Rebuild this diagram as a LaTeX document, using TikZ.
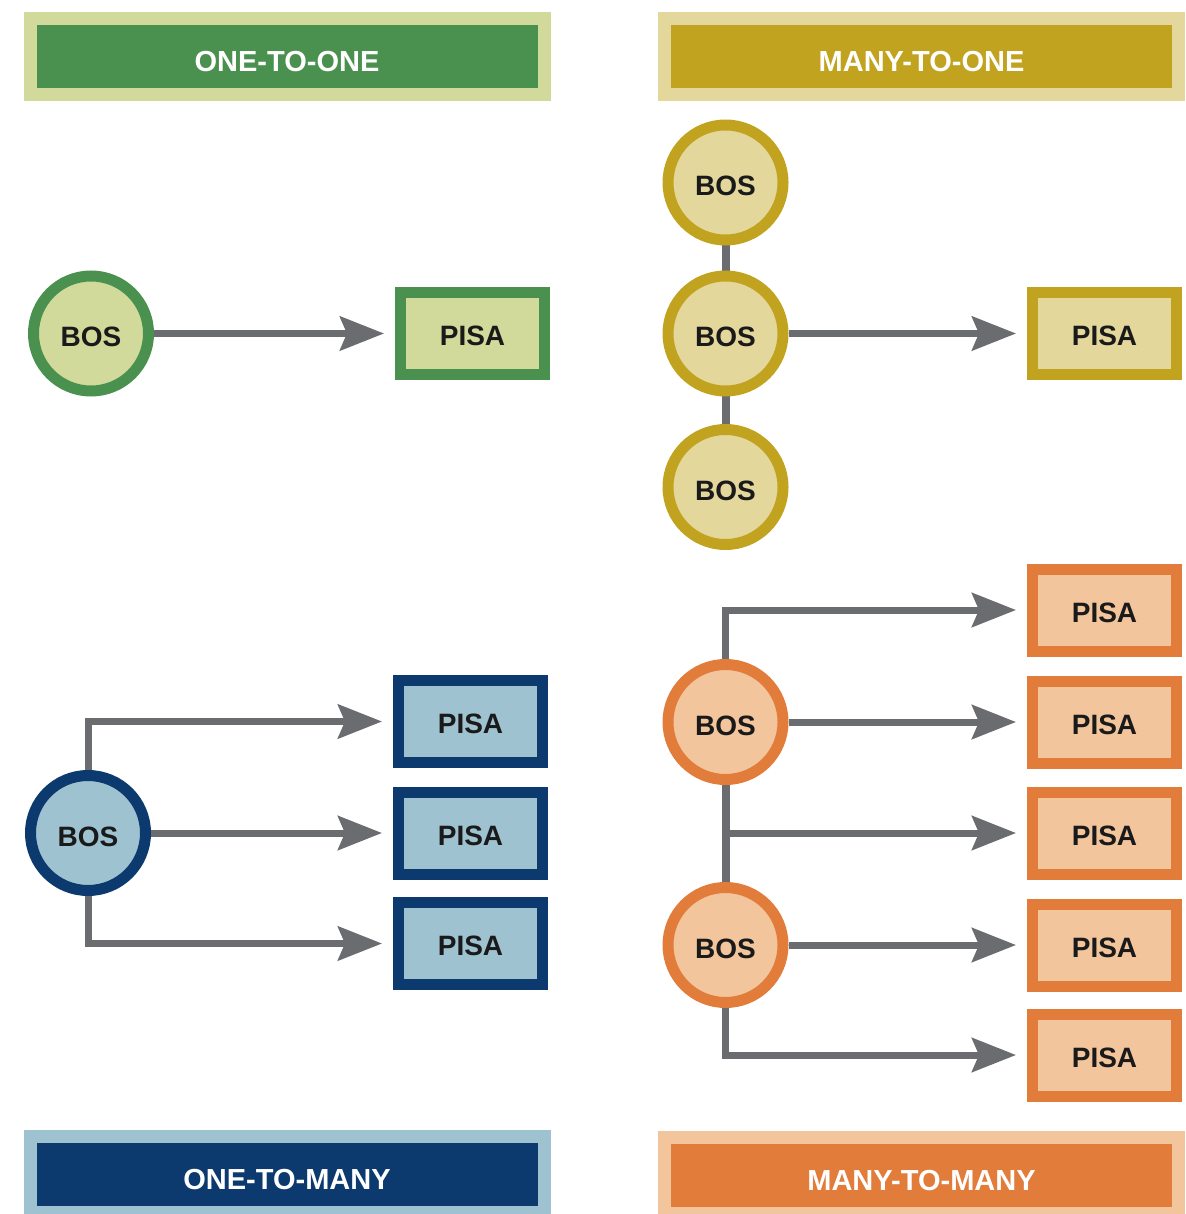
\documentclass[tikz,border=0pt]{standalone}
\usepackage{fontspec}
\setmainfont{Liberation Sans}
\usetikzlibrary{arrows.meta,backgrounds,positioning}

\definecolor{greendk}{HTML}{4A914F}
\definecolor{greenlt}{HTML}{D1DA9A}
\definecolor{golddk}{HTML}{C1A31F}
\definecolor{goldlt}{HTML}{E3D79C}
\definecolor{bluedk}{HTML}{0D3A6E}
\definecolor{bluelt}{HTML}{9EC2D0}
\definecolor{orangedk}{HTML}{E27C3B}
\definecolor{orangelt}{HTML}{F2C59C}
\definecolor{arrgray}{HTML}{6B6C70}
\definecolor{txt}{HTML}{1A1A1A}

\begin{document}
\begin{tikzpicture}[x=1pt,y=-1pt,
    hdr/.style={draw=#1lt,fill=#1dk,line width=13pt,minimum width=514pt,minimum height=76pt,
      inner sep=0pt,text height=30pt,text=white,font=\bfseries\fontsize{29}{29}\selectfont},
    bos/.style={circle,draw=#1dk,fill=#1lt,line width=11pt,minimum size=115pt,inner sep=0pt,
      text height=27pt,text=txt,font=\bfseries\fontsize{28}{28}\selectfont},
    pisa/.style={rectangle,draw=#1dk,fill=#1lt,line width=11pt,minimum width=144pt,minimum height=82pt,
      inner sep=0pt,text height=25pt,text=txt,font=\bfseries\fontsize{28}{28}\selectfont},
    link/.style={draw=arrgray,line width=8pt},
    arr/.style={draw=arrgray,line width=7pt,-{Stealth[length=44pt,width=34pt,inset=7pt]},shorten >=11pt}]
  \useasboundingbox (0,0) rectangle (1185,1214);

  % headers
  \node[hdr=green] (h11) at (287,56.5) {ONE-TO-ONE};
  \node[hdr=gold] (hm1) at (921.5,56.5) {MANY-TO-ONE};
  \node[hdr=blue] (h1m) at (287,1174.5) {ONE-TO-MANY};
  \node[hdr=orange] (hmm) at (921.5,1175.5) {MANY-TO-MANY};

  % one-to-one
  \node[bos=green] (b1) at (91,333.5) {BOS};
  \node[pisa=green] (p1) at (472.5,333.5) {PISA};

  % many-to-one
  \node[bos=gold] (m1) at (725.5,182.5) {BOS};
  \node[bos=gold] (m2) at (725.5,333.5) {BOS};
  \node[bos=gold] (m3) at (725.5,487) {BOS};
  \node[pisa=gold] (q1) at (1104.5,333.5) {PISA};

  % one-to-many
  \node[bos=blue] (c1) at (88,833) {BOS};
  \node[pisa=blue] (r1) at (470.5,721.5) {PISA};
  \node[pisa=blue] (r2) at (470.5,833) {PISA};
  \node[pisa=blue] (r3) at (470.5,943.5) {PISA};

  % many-to-many
  \node[bos=orange] (d1) at (725.5,722) {BOS};
  \node[bos=orange] (d2) at (725.5,945) {BOS};
  \node[pisa=orange] (s1) at (1104.5,610) {PISA};
  \node[pisa=orange] (s2) at (1104.5,722) {PISA};
  \node[pisa=orange] (s3) at (1104.5,833) {PISA};
  \node[pisa=orange] (s4) at (1104.5,945) {PISA};
  \node[pisa=orange] (s5) at (1104.5,1055) {PISA};

  \begin{scope}[on background layer]
    \draw[arr] (b1.east) -- (p1.west);

    \draw[link] (m1) -- (m3);
    \draw[arr] (m2.east) -- (q1.west);

    \draw[arr] (c1.north) |- (r1.west);
    \draw[arr] (c1.east) -- (r2.west);
    \draw[arr] (c1.south) |- (r3.west);

    \draw[link] (d1) -- (d2);
    \draw[arr] (d1.north) |- (s1.west);
    \draw[arr] (d1.east) -- (s2.west);
    \draw[arr] (d1 |- s3.west) -- (s3.west);
    \draw[arr] (d2.east) -- (s4.west);
    \draw[arr] (d2.south) |- (s5.west);
  \end{scope}
\end{tikzpicture}
\end{document}
